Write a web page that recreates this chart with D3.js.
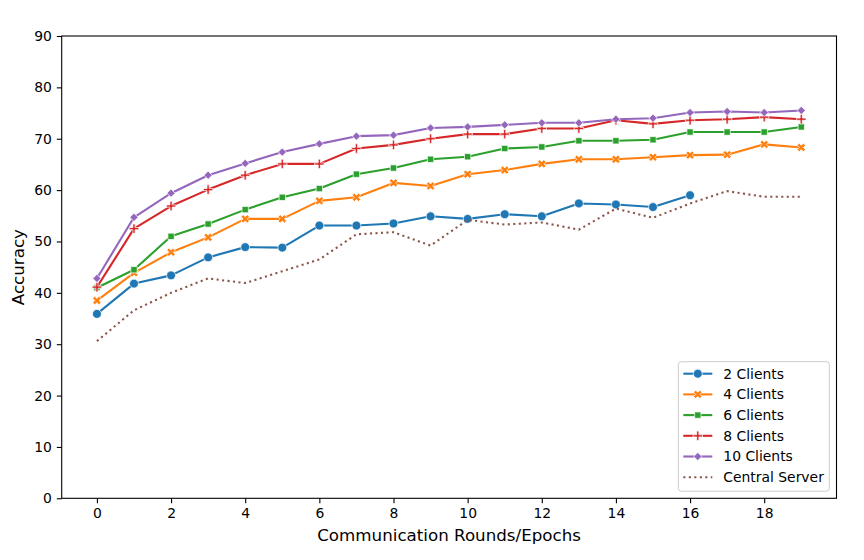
<html>
<head>
<style>
  body { margin: 0; background: #fff; }
  text { font-family: "DejaVu Sans", sans-serif; fill: #000; }
</style>
</head>
<body>
<div id="chart"></div>
<script src="https://d3js.org/d3.v7.min.js"></script>
<script>
  const width = 864;
  const height = 560;

  const rounds = d3.range(0, 20);
  const xTicks = [0, 2, 4, 6, 8, 10, 12, 14, 16, 18];
  const yTicks = [0, 10, 20, 30, 40, 50, 60, 70, 80, 90];

  const clients2 = [35.9, 41.8, 43.4, 46.9, 48.9, 48.8, 53.1, 53.1, 53.5, 54.9, 54.4, 55.3, 54.9, 57.4, 57.2, 56.7, 59.0];
  const clients4 = [38.5, 43.9, 47.9, 50.8, 54.4, 54.4, 57.9, 58.6, 61.4, 60.8, 63.1, 63.9, 65.1, 66.0, 66.0, 66.4, 66.8, 66.9, 68.9, 68.3];
  const clients6 = [41.0, 44.5, 51.0, 53.4, 56.2, 58.6, 60.3, 63.1, 64.3, 66.0, 66.5, 68.1, 68.4, 69.6, 69.6, 69.8, 71.3, 71.3, 71.3, 72.3];
  const clients8 = [41.1, 52.5, 56.9, 60.1, 62.9, 65.1, 65.1, 68.1, 68.8, 70.0, 70.9, 70.9, 72.0, 72.0, 73.6, 72.9, 73.6, 73.8, 74.2, 73.8];
  const clients10 = [42.8, 54.7, 59.4, 62.9, 65.2, 67.4, 69.0, 70.5, 70.7, 72.1, 72.3, 72.7, 73.1, 73.1, 73.8, 74.0, 75.1, 75.3, 75.1, 75.5];
  const central = [30.6, 36.6, 40.0, 42.8, 41.9, 44.2, 46.5, 51.4, 51.8, 49.2, 54.2, 53.3, 53.7, 52.3, 56.4, 54.6, 57.4, 59.8, 58.7, 58.7];

  const seriesNames = ['2 Clients', '4 Clients', '6 Clients', '8 Clients', '10 Clients', 'Central Server'];
  const seriesValues = [clients2, clients4, clients6, clients8, clients10, central];
  const colors = ['#1f77b4', '#ff7f0e', '#2ca02c', '#d62728', '#9467bd', '#8c564b'];

  // thin plus with a given arm half-width
  const thinPlus = {
    draw(context, size) {
      const r = Math.sqrt(size) / 1.5;
      const w = 1.1;
      context.moveTo(-r, -w);
      context.lineTo(-w, -w);
      context.lineTo(-w, -r);
      context.lineTo(w, -r);
      context.lineTo(w, -w);
      context.lineTo(r, -w);
      context.lineTo(r, w);
      context.lineTo(w, w);
      context.lineTo(w, r);
      context.lineTo(-w, r);
      context.lineTo(-w, w);
      context.lineTo(-r, w);
      context.closePath();
    }
  };

  // marker shapes: circle, X, square, plus, diamond, none
  const markers = [
    { type: d3.symbolCircle, size: 62, rotate: 0 },
    { type: d3.symbolCross, size: 44, rotate: 45 },
    { type: d3.symbolSquare, size: 40, rotate: 0 },
    { type: thinPlus, size: 50, rotate: 0 },
    { type: d3.symbolSquare, size: 34, rotate: 45 },
    null
  ];

  const margin = { left: 61.7, right: 864 - 836.5, top: 36, bottom: 560 - 498.3 };

  const svg = d3.select('#chart')
    .append('svg')
    .attr('width', width)
    .attr('height', height);

  const x = d3.scaleLinear().domain([-0.95, 19.95]).range([margin.left, width - margin.right]);
  const y = d3.scaleLinear().domain([0, 90]).range([height - margin.bottom, margin.top]);

  // axes
  const xAxis = d3.axisBottom(x).tickValues(xTicks).tickSize(4.9).tickPadding(4.9).tickFormat(d3.format('d'));
  const yAxis = d3.axisLeft(y).tickValues(yTicks).tickSize(4.9).tickPadding(4.9).tickFormat(d3.format('d'));

  const gx = svg.append('g').attr('transform', `translate(0, ${height - margin.bottom})`).call(xAxis);
  const gy = svg.append('g').attr('transform', `translate(${margin.left}, 0)`).call(yAxis);
  [gx, gy].forEach(g => {
    g.select('.domain').remove();
    g.selectAll('.tick line').attr('stroke', '#000').attr('stroke-width', 1.1);
    g.selectAll('.tick text').attr('font-size', 13.9).attr('font-family', '"DejaVu Sans", sans-serif');
  });

  // frame
  svg.append('rect')
    .attr('x', margin.left)
    .attr('y', margin.top)
    .attr('width', width - margin.right - margin.left)
    .attr('height', height - margin.bottom - margin.top)
    .attr('fill', 'none')
    .attr('stroke', '#000')
    .attr('stroke-width', 1.1);

  // lines
  const line = d3.line().x((d, i) => x(rounds[i])).y(d => y(d));

  seriesValues.forEach((vals, s) => {
    svg.append('path')
      .datum(vals)
      .attr('d', line)
      .attr('fill', 'none')
      .attr('stroke', colors[s])
      .attr('stroke-width', 2.1)
      .attr('stroke-dasharray', markers[s] ? null : '2.1,3.4')
      .attr('stroke-linejoin', 'round');

    if (markers[s]) {
      const m = markers[s];
      svg.append('g').selectAll('path')
        .data(vals)
        .join('path')
        .attr('d', d3.symbol().type(m.type).size(m.size))
        .attr('transform', (d, i) => `translate(${x(rounds[i])}, ${y(d)}) rotate(${m.rotate})`)
        .attr('fill', colors[s])
        .attr('stroke', '#fff')
        .attr('stroke-width', 0.7);
    }
  });

  // axis labels
  svg.append('text')
    .attr('x', (margin.left + width - margin.right) / 2)
    .attr('y', 541)
    .attr('text-anchor', 'middle')
    .attr('font-size', 16.7)
    .text('Communication Rounds/Epochs');

  svg.append('text')
    .attr('transform', `translate(24, ${(margin.top + height - margin.bottom) / 2}) rotate(-90)`)
    .attr('text-anchor', 'middle')
    .attr('font-size', 16.7)
    .text('Accuracy');

  // legend
  const legend = svg.append('g').attr('transform', 'translate(678.3, 361.7)');
  legend.append('rect')
    .attr('width', 151)
    .attr('height', 129.5)
    .attr('rx', 3)
    .attr('fill', '#fff')
    .attr('fill-opacity', 0.8)
    .attr('stroke', '#ccc')
    .attr('stroke-width', 1);

  seriesNames.forEach((name, s) => {
    const row = legend.append('g').attr('transform', `translate(0, ${12 + s * 20.7})`);
    row.append('line')
      .attr('x1', 5).attr('x2', 34)
      .attr('stroke', colors[s])
      .attr('stroke-width', 2.1)
      .attr('stroke-dasharray', markers[s] ? null : '2.1,3.4');
    if (markers[s]) {
      const m = markers[s];
      row.append('path')
        .attr('d', d3.symbol().type(m.type).size(m.size))
        .attr('transform', `translate(19.5, 0) rotate(${m.rotate})`)
        .attr('fill', colors[s])
        .attr('stroke', '#fff')
        .attr('stroke-width', 0.7);
    }
    row.append('text')
      .attr('x', 45)
      .attr('y', 0)
      .attr('dy', '0.35em')
      .attr('font-size', 13.9)
      .text(name);
  });
</script>
</body>
</html>
